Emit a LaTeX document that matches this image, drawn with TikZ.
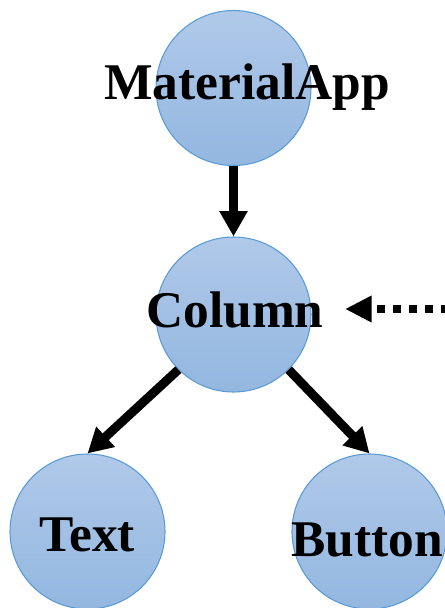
\documentclass[tikz,border=0pt]{standalone}
\usepackage{fontspec}
\setmainfont{Liberation Serif}
\usetikzlibrary{arrows.meta}
\definecolor{bubtop}{RGB}{176,201,233}
\definecolor{bubbot}{RGB}{147,183,224}
\definecolor{bubedge}{RGB}{91,155,213}
\tikzset{
  bub/.style={circle, minimum size=116.25pt, inner sep=0pt, draw=bubedge, line width=0.8pt, top color=bubtop, bottom color=bubbot},
  lbl/.style={inner sep=0pt, font=\fontsize{38.6pt}{46pt}\selectfont\bfseries},
  arr/.style={line width=6.75pt, -{Triangle[length=19pt,width=20pt]}},
  darr/.style={line width=6.75pt, -{Triangle[length=18.5pt,width=19.5pt]}},
  dotarr/.style={line width=6pt, {Triangle[length=20pt,width=18.75pt]}-, dash pattern=on 5.6pt off 6.4pt, dash phase=6.5pt}
}
\begin{document}
\begin{tikzpicture}[x=0.75pt,y=-0.75pt]
\useasboundingbox (0,0) rectangle (445,608);
\node[bub] (ma) at (233.5,88) {};
\node[bub] (col) at (233.5,314.5) {};
\node[bub] (txt) at (87.5,531.5) {};
\node[bub] (btn) at (369.5,531.5) {};
\node[lbl, anchor=base west] (maL) at (104,99.5) {MaterialApp};
\node[lbl, anchor=base west] (colL) at (146,327.5) {Column};
\node[lbl, anchor=base west] (txtL) at (39.5,551) {Text};
\node[lbl, anchor=base west] (btnL) at (291,556.7) {Button};
\draw[arr] (ma.south) -- (col.north);
\draw[darr] (col.south west) -- (txt.north);
\draw[darr] (col.south east) -- (btn.north);
\coordinate (dtip) at (345,309);
\coordinate (dend) at (452,309);
\draw[dotarr] (dtip) -- (dend);
\end{tikzpicture}
\end{document}
